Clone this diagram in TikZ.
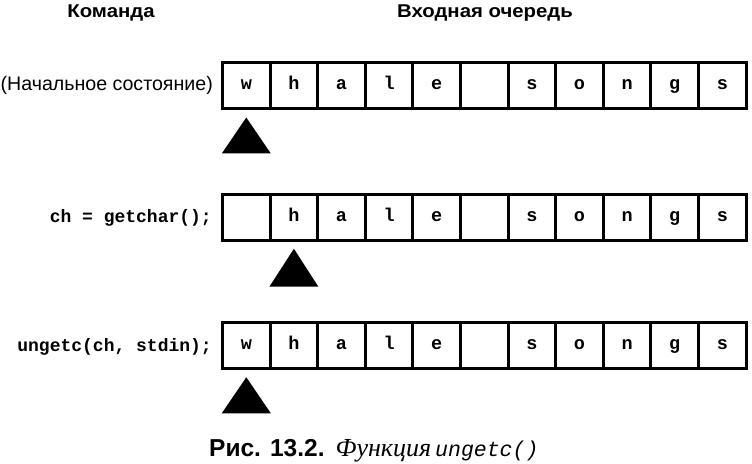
\documentclass[tikz,border=0pt]{standalone}
\usepackage{fontspec}
\setmainfont{Liberation Sans}
\setmonofont{Liberation Mono}
\newfontfamily\capserif{Liberation Serif}
\newfontfamily\widesans{Liberation Sans}[FakeStretch=1.1]
\begin{document}
\begin{tikzpicture}[x=1bp,y=-1bp,
  cell/.style={draw, line width=3bp, minimum width=47.6bp, minimum height=45.5bp,
    inner sep=0pt, text height=8bp, text depth=0bp,
    font=\fontsize{18.5bp}{20bp}\ttfamily\bfseries},
  header/.style={anchor=base, font=\fontsize{18.5bp}{20bp}\widesans\bfseries},
  cmd/.style={anchor=base east, inner sep=0pt, font=\fontsize{18bp}{20bp}\ttfamily\bfseries},
  pointer/.style={fill=black}]
\useasboundingbox (0,0) rectangle (752,464);

% column headers
\node[header] (hcmd) at (111,17.3) {Команда};
\node[header] (hqueue) at (485,17.3) {Входная очередь};

% queue rows: row name / centre y / contents
\foreach \r/\yc/\txt in {a/85.75/{w,h,a,l,e,{},s,o,n,g,s},
                         b/217.5/{{},h,a,l,e,{},s,o,n,g,s},
                         c/345.5/{w,h,a,l,e,{},s,o,n,g,s}}{
  \foreach \ch [count=\i from 0] in \txt {
    \node[cell] (\r\i) at (246.3+47.6*\i,\yc) {\ch};
  }
}

% commands
\node[cmd, font=\fontsize{19.6bp}{22bp}\selectfont] (la) at (213,91) {(Начальное состояние)};
\node[cmd] (lb) at (212,223) {ch = getchar();};
\node[cmd] (lc) at (212,351.5) {ungetc(ch, stdin);};

% read pointers
\fill[pointer] ([yshift=-7.5bp]a0.south) -- ++(-24.5,36) -- ++(49,0) -- cycle;
\fill[pointer] ([yshift=-7bp]b1.south) -- ++(-24.5,38) -- ++(49,0) -- cycle;
\fill[pointer] ([yshift=-7.5bp]c0.south) -- ++(-24.5,36) -- ++(49,0) -- cycle;

% caption
\node[anchor=base west, inner sep=0pt] (cap) at (209,456)
  {{\fontsize{24.5bp}{26bp}\bfseries Рис. 13.2.}\hspace{11bp}%
   {\fontsize{26bp}{28bp}\capserif\itshape Функция}\hspace{4bp}%
   {\fontsize{21.5bp}{24bp}\ttfamily\itshape ungetc()}};
\end{tikzpicture}
\end{document}
